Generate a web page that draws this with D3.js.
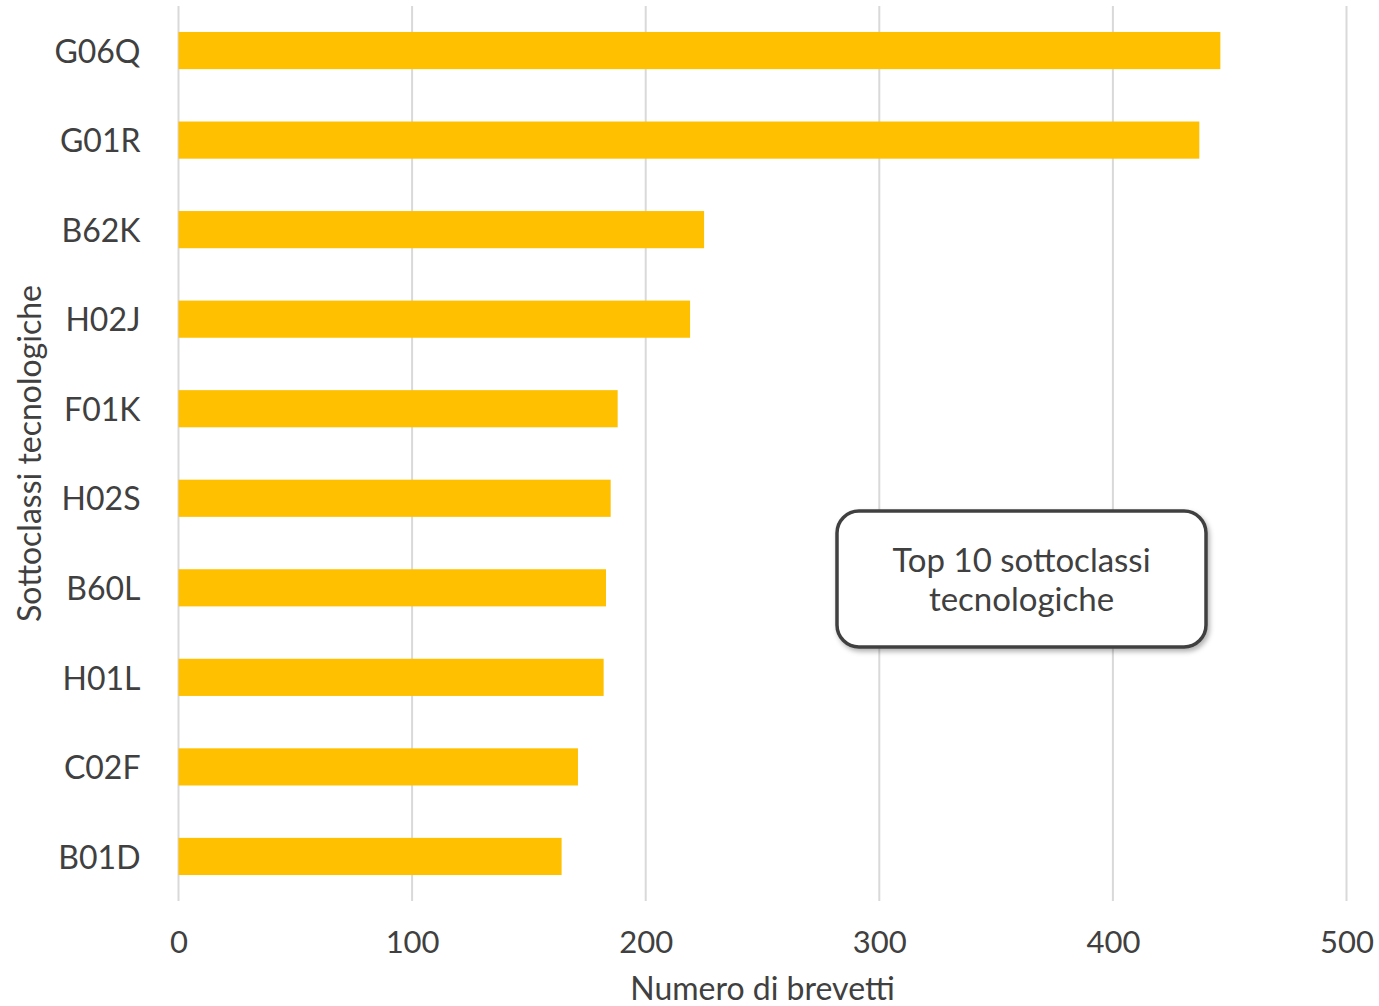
<!DOCTYPE html>
<html><head><meta charset="utf-8">
<script src="https://cdn.jsdelivr.net/npm/d3@7"></script>
<style>body{margin:0;background:#fff}svg{display:block}</style>
</head><body>
<script>
const categories = ["G06Q","G01R","B62K","H02J","F01K","H02S","B60L","H01L","C02F","B01D"];
const values = [446,437,225,219,188,185,183,182,171,164];
const xTicks = [0,100,200,300,400,500];
const xTitle = "Numero di brevetti";
const yTitle = "Sottoclassi tecnologiche";
const boxLines = ["Top 10 sottoclassi","tecnologiche"];

const W=1379,H=1006;
const m={left:178.5,right:1346.5,top:6,bottom:901};
const font="Lato, 'Open Sans', sans-serif";
const txt="#404040";
const svg=d3.select("body").append("svg").attr("width",W).attr("height",H).style("font-family",font);

const x=d3.scaleLinear().domain([0,500]).range([m.left,m.right]);
const y=d3.scaleBand().domain(categories).range([m.top,m.bottom]).paddingInner(0.585).paddingOuter(0.29);

svg.append("g").selectAll("line").data(xTicks).join("line")
 .attr("x1",d=>x(d)).attr("x2",d=>x(d)).attr("y1",m.top).attr("y2",m.bottom)
 .attr("stroke","#d9d9d9").attr("stroke-width",2);

svg.append("g").selectAll("rect").data(categories).join("rect")
 .attr("x",x(0)).attr("y",d=>y(d)).attr("height",y.bandwidth())
 .attr("width",(d,i)=>x(values[i])-x(0)).attr("fill","#FFC000");

const xAxis=svg.append("g").attr("transform",`translate(0,${m.bottom})`)
 .call(d3.axisBottom(x).tickValues(xTicks).tickSize(0).tickPadding(30));
xAxis.select(".domain").remove();
xAxis.selectAll("text").attr("font-size",31).attr("fill",txt).style("font-family",font);

const yAxis=svg.append("g").attr("transform",`translate(${m.left},0)`)
 .call(d3.axisLeft(y).tickSize(0).tickPadding(38));
yAxis.select(".domain").remove();
yAxis.selectAll("text").attr("font-size",32).attr("fill",txt).style("font-family",font).attr("dy","0.38em");

svg.append("text").attr("x",(m.left+m.right)/2).attr("y",1000).attr("text-anchor","middle")
 .attr("font-size",32).attr("fill",txt).text(xTitle);
svg.append("text").attr("transform",`translate(41,${(m.top+m.bottom)/2}) rotate(-90)`)
 .attr("text-anchor","middle").attr("font-size",32).attr("fill",txt).text(yTitle);

const defs=svg.append("defs");
const f=defs.append("filter").attr("id","sh").attr("x","-10%").attr("y","-10%").attr("width","130%").attr("height","140%");
f.append("feDropShadow").attr("dx",2).attr("dy",3).attr("stdDeviation",2.5).attr("flood-color","#000").attr("flood-opacity",0.3);

const bx=837,by=511,bw=369,bh=136;
svg.append("rect").attr("x",bx).attr("y",by).attr("width",bw).attr("height",bh)
 .attr("rx",22).attr("ry",22).attr("fill","#fff").attr("stroke","#404040").attr("stroke-width",3.5)
 .attr("filter","url(#sh)");
svg.append("g").selectAll("text").data(boxLines).join("text")
 .attr("x",bx+bw/2).attr("y",(d,i)=>572+i*39).attr("text-anchor","middle")
 .attr("font-size",33).attr("fill",txt).text(d=>d);
</script>
</body></html>
